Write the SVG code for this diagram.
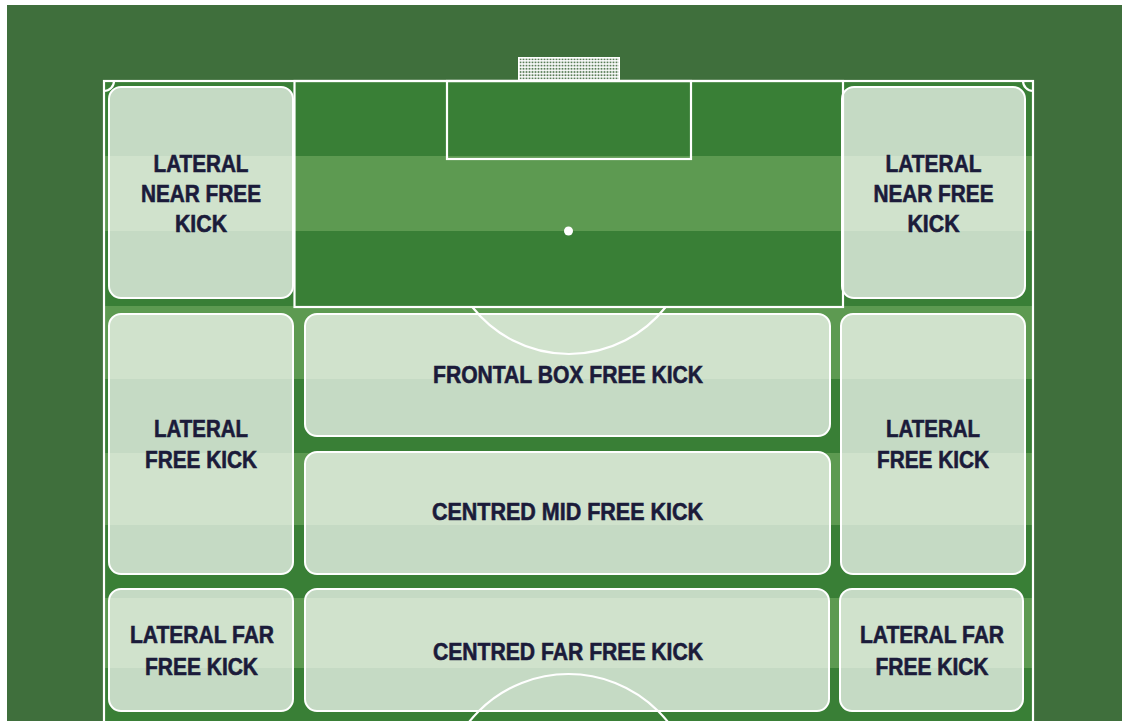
<svg xmlns="http://www.w3.org/2000/svg" width="1122" height="721" viewBox="0 0 1122 721">
<style>
.line{fill:none;stroke:#ffffff;stroke-width:2.2}
.zone{fill:#ffffff;fill-opacity:0.71;stroke:#ffffff;stroke-width:2}
.lbl{font-family:"Liberation Sans",Arial,sans-serif;font-weight:700;font-size:24px;fill:#1b1b3a;stroke:#1b1b3a;stroke-width:0.6;text-anchor:middle}
</style>
<defs>
<pattern id="net" x="0" y="0" width="3" height="3.2" patternUnits="userSpaceOnUse">
<rect x="0" y="0" width="3" height="3.2" fill="#ffffff"/>
<rect x="0.6" y="0.7" width="1.8" height="1.8" fill="#5a7d57"/>
</pattern>
</defs>
<rect x="0" y="0" width="1122" height="721" fill="#ffffff"/>
<rect x="7" y="5" width="1115" height="716" fill="#3f6f3c"/>
<g id="pitch">
<rect x="104" y="81" width="929" height="640" fill="#397f36"/>
<rect x="104" y="156" width="929" height="75" fill="#5d9a51"/>
<rect x="104" y="306" width="929" height="73" fill="#5d9a51"/>
<rect x="104" y="453" width="929" height="72" fill="#5d9a51"/>
<rect x="104" y="598" width="929" height="70" fill="#5d9a51"/>
<rect x="518" y="57" width="102" height="24" fill="#ffffff"/>
<rect x="519.5" y="58.5" width="99" height="21" fill="url(#net)"/>
<rect class="line" x="104" y="81" width="929" height="660"/>
<path class="line" d="M104,91 A10,10 0 0 0 114,81"/>
<path class="line" d="M1023,81 A10,10 0 0 0 1033,91"/>
<rect class="line" x="294.5" y="81" width="548.5" height="226"/>
<rect class="line" x="447" y="81" width="244" height="78"/>
<circle cx="568.5" cy="231" r="4.5" fill="#ffffff"/>
<path class="line" d="M472.3,307 A123,123 0 0 0 665.7,307"/>
<circle class="line" cx="568.5" cy="801" r="127"/>
</g>
<g id="connectors"/>
<g id="lateral-near-left">
<rect class="zone" x="109" y="87" width="184" height="211" rx="12"/>
<text class="lbl" x="201" y="171.5" textLength="95" lengthAdjust="spacingAndGlyphs">LATERAL</text>
<text class="lbl" x="201" y="201.5" textLength="120" lengthAdjust="spacingAndGlyphs">NEAR FREE</text>
<text class="lbl" x="201" y="231.5" textLength="52" lengthAdjust="spacingAndGlyphs">KICK</text>
</g>
<g id="lateral-near-right">
<rect class="zone" x="842" y="87" width="183" height="211" rx="12"/>
<text class="lbl" x="933.5" y="171.5" textLength="96" lengthAdjust="spacingAndGlyphs">LATERAL</text>
<text class="lbl" x="933.5" y="201.5" textLength="120" lengthAdjust="spacingAndGlyphs">NEAR FREE</text>
<text class="lbl" x="933.5" y="231.5" textLength="52" lengthAdjust="spacingAndGlyphs">KICK</text>
</g>
<g id="lateral-left">
<rect class="zone" x="109" y="314" width="184" height="260" rx="12"/>
<text class="lbl" x="201" y="437" textLength="94" lengthAdjust="spacingAndGlyphs">LATERAL</text>
<text class="lbl" x="201" y="468" textLength="112" lengthAdjust="spacingAndGlyphs">FREE KICK</text>
</g>
<g id="lateral-right">
<rect class="zone" x="841" y="314" width="184" height="260" rx="12"/>
<text class="lbl" x="933" y="437" textLength="94" lengthAdjust="spacingAndGlyphs">LATERAL</text>
<text class="lbl" x="933" y="468" textLength="112" lengthAdjust="spacingAndGlyphs">FREE KICK</text>
</g>
<g id="frontal-box">
<rect class="zone" x="305" y="314" width="525" height="122" rx="12"/>
<text class="lbl" x="568" y="383" textLength="270" lengthAdjust="spacingAndGlyphs">FRONTAL BOX FREE KICK</text>
</g>
<g id="centred-mid">
<rect class="zone" x="305" y="452" width="525" height="122" rx="12"/>
<text class="lbl" x="567.5" y="519.5" textLength="271" lengthAdjust="spacingAndGlyphs">CENTRED MID FREE KICK</text>
</g>
<g id="lateral-far-left">
<rect class="zone" x="109" y="589" width="184" height="122" rx="12"/>
<text class="lbl" x="202" y="643" textLength="144" lengthAdjust="spacingAndGlyphs">LATERAL FAR</text>
<text class="lbl" x="201.5" y="674.5" textLength="113" lengthAdjust="spacingAndGlyphs">FREE KICK</text>
</g>
<g id="centred-far">
<rect class="zone" x="305" y="589" width="524" height="122" rx="12"/>
<text class="lbl" x="568" y="660" textLength="270" lengthAdjust="spacingAndGlyphs">CENTRED FAR FREE KICK</text>
</g>
<g id="lateral-far-right">
<rect class="zone" x="840" y="589" width="183" height="122" rx="12"/>
<text class="lbl" x="932" y="643" textLength="144" lengthAdjust="spacingAndGlyphs">LATERAL FAR</text>
<text class="lbl" x="932" y="674.5" textLength="113" lengthAdjust="spacingAndGlyphs">FREE KICK</text>
</g>
</svg>
